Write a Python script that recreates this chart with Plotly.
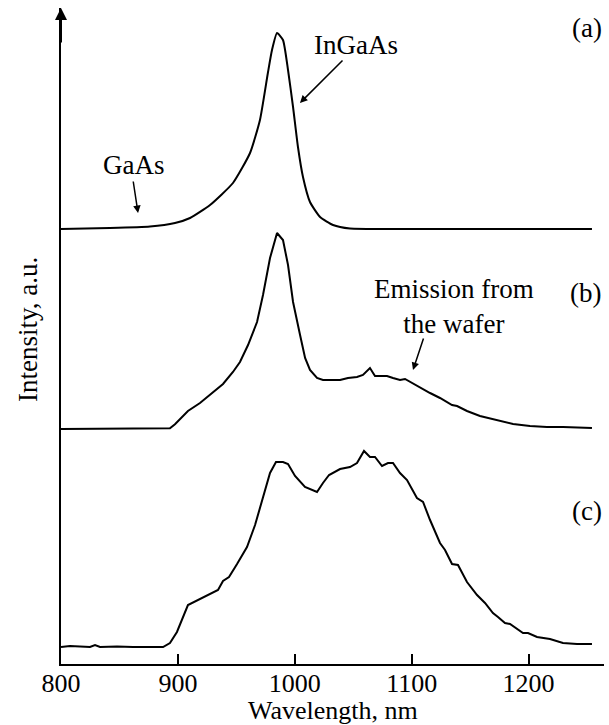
import plotly.graph_objects as go

# ---- data ----
wl_a = [800, 841.9, 876.1, 897.5, 910.4, 927.5, 947.1, 961.7, 970.2, 977.1, 980.5, 984.8,
        989.9, 994.2, 998.5, 1002.7, 1007.0, 1013.0, 1021.6, 1032.7, 1047.2, 1090.0, 1254.2]
int_a = [0, 1, 2.5, 6, 11, 24, 46, 76, 109, 157, 179, 196,
         189, 159, 122, 82, 52, 27, 12, 4, 0.5, 0, 0]

wl_b = [800, 833.4, 876.1, 893.2, 897.5, 908.6, 918.9, 930.0, 938.6, 947.1,
        953.1, 960.0, 967.7, 972.8, 978.8, 984.8, 989.9, 994.2, 998.5, 1004.5,
        1008.8, 1013.0, 1019.0, 1024.1, 1031.8, 1038.7, 1045.5, 1053.2, 1058.3, 1064.3,
        1068.6, 1078.9, 1084.0, 1090.0, 1094.3, 1100.3, 1107.1, 1115.7, 1124.2, 1134.5,
        1138.8, 1147.3, 1158.4, 1173.0, 1186.7, 1201.2, 1215.7, 1229.4, 1254.2]
int_b = [0, 0, 0, 0.7, 4.7, 18, 26, 37, 45, 57,
         67, 84, 107, 134, 171, 196, 189, 164, 127, 94,
         71, 59, 51, 49, 49, 49, 51, 52, 54, 61,
         53, 53, 51, 49, 50, 46, 41, 36, 31, 24,
         23, 18, 13, 9, 5, 3, 2, 2, 1]

wl_c = [800, 807.7, 824.8, 829.1, 833.4, 847.9, 861.6, 887.3, 893.2, 899.2,
        908.6, 917.2, 929.2, 934.3, 938.6, 943.7, 950.6, 959.1, 966.0, 972.8,
        978.8, 983.9, 989.9, 994.2, 1000.2, 1008.7, 1014.7, 1019.0, 1024.1, 1029.3,
        1038.7, 1042.9, 1047.2, 1053.2, 1059.2, 1064.3, 1068.6, 1074.6, 1079.7, 1084.0,
        1090.0, 1096.0, 1104.5, 1109.7, 1115.7, 1124.2, 1128.5, 1134.5, 1139.6, 1147.3,
        1155.9, 1162.7, 1169.5, 1173.8, 1179.8, 1184.1, 1195.2, 1199.5, 1207.2, 1218.3,
        1229.4, 1241.4, 1254.2]
int_c = [0, 1, 0, 2, 0, 0.5, 0, 0, 4, 15,
         42, 47, 54, 57, 66, 70, 83, 100, 122, 149,
         174, 185, 185, 183, 171, 160, 157, 155, 164, 172,
         178, 179, 180, 184, 196, 190, 190, 181, 184, 184,
         174, 167, 149, 145, 127, 104, 97, 83, 82, 65,
         52, 44, 34, 30, 24, 23, 14, 14, 10, 8,
         4, 3, 3]

x_ticks = [800, 900, 1000, 1100, 1200]
x_tick_labels = ["800", "900", "1000", "1100", "1200"]

# vertical offsets of the stacked spectra (layout, not data)
OFF_A, OFF_B, OFF_C = 435, 235, 17

FONT = "Liberation Serif, Times New Roman, serif"
FS = 27

fig = go.Figure()
for wl, it, off, shape in ((wl_a, int_a, OFF_A, "spline"),
                           (wl_b, int_b, OFF_B, "linear"),
                           (wl_c, int_c, OFF_C, "linear")):
    line = dict(color="black", width=2, shape=shape)
    if shape == "spline":
        line["smoothing"] = 0.5
    fig.add_trace(go.Scatter(x=wl, y=[v + off for v in it], mode="lines",
                             line=line, showlegend=False, hoverinfo="skip"))

ann = []
def txt(t, x, y):
    ann.append(dict(text=t, x=x, y=y, xref="x", yref="y", showarrow=False,
                    xanchor="center", yanchor="middle",
                    font=dict(family=FONT, size=FS, color="black")))

def arrow(x0, y0, x1, y1, head=2, size=1.0, width=1.5):
    ann.append(dict(text="", x=x1, y=y1, ax=x0, ay=y0, xref="x", yref="y",
                    axref="x", ayref="y", showarrow=True, arrowhead=head,
                    arrowsize=size, arrowwidth=width, arrowcolor="black", standoff=0))

txt("(a)", 1250, 636)
txt("(b)", 1249, 371)
txt("(c)", 1250, 153)
txt("InGaAs", 1052.4, 619)
txt("GaAs", 862.4, 499)
txt("Emission from<br>the wafer", 1136.2, 358)
arrow(1042.1, 605, 1004.4, 561)
arrow(861.6, 484, 865.9, 451)
arrow(1110.5, 327, 1101.1, 294)
# y-axis arrow
arrow(800, 620, 800, 656, head=2, size=1.2, width=2)

ann.append(dict(text="Intensity, a.u.", textangle=-90, xref="paper", yref="paper",
                x=-0.0608, y=0.5107, showarrow=False, xanchor="center", yanchor="middle",
                font=dict(family=FONT, size=FS, color="black")))
ann.append(dict(text="Wavelength, nm", xref="paper", yref="paper",
                x=0.5, y=-0.0716, showarrow=False, xanchor="center", yanchor="middle",
                font=dict(family=FONT, size=26, color="black")))

fig.update_layout(
    width=609, height=725,
    margin=dict(l=61, r=5, t=8, b=61),
    paper_bgcolor="white", plot_bgcolor="white",
    annotations=ann,
    xaxis=dict(range=[800, 1264.5], tickvals=x_ticks, ticktext=x_tick_labels,
               showgrid=False, zeroline=False, showline=True, linecolor="black",
               linewidth=2, ticks="inside", ticklen=10, tickwidth=2, tickcolor="black",
               ticklabelstandoff=-5,
               tickfont=dict(family=FONT, size=26, color="black")),
    yaxis=dict(range=[0, 656], showgrid=False, zeroline=False, showline=True,
               linecolor="black", linewidth=2, showticklabels=False, ticks=""),
)

fig.write_html("out.html")
